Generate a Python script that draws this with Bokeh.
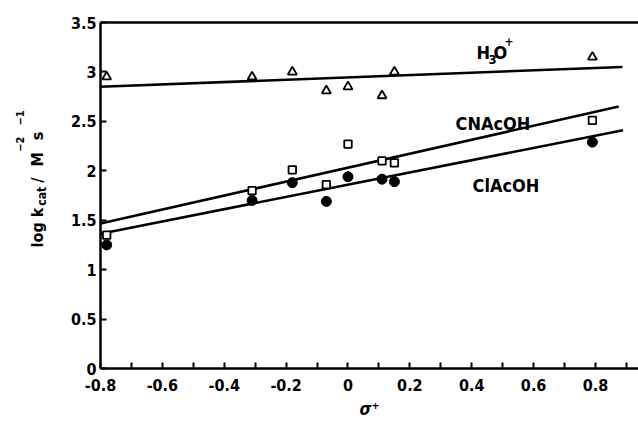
from bokeh.plotting import figure
from bokeh.models import Label, LinearAxis, FixedTicker, Range1d
from bokeh.layouts import row
from bokeh.embed import file_html
from bokeh.resources import INLINE

# ---- data ----
sigma = [-0.78, -0.31, -0.18, -0.07, 0.0, 0.11, 0.15, 0.79]
h3o = [2.95, 2.95, 3.00, 2.81, 2.85, 2.76, 3.00, 3.15]
cnacoh = [1.35, 1.80, 2.01, 1.86, 2.27, 2.10, 2.08, 2.51]
clacoh = [1.25, 1.70, 1.88, 1.69, 1.94, 1.915, 1.89, 2.29]

h3o_fit_x = [-0.8, 0.887]
h3o_fit_y = [2.85, 3.05]
cn_fit_x = [-0.8, 0.875]
cn_fit_y = [1.466, 2.65]
cl_fit_x = [-0.8, 0.889]
cl_fit_y = [1.364, 2.41]

x_ticks = [-0.8, -0.6, -0.4, -0.2, 0.0, 0.2, 0.4, 0.6, 0.8]
x_tick_labels = ["-0.8", "-0.6", "-0.4", "-0.2", "0", "0.2", "0.4", "0.6", "0.8"]
x_minor = [-0.7, -0.5, -0.3, -0.1, 0.1, 0.3, 0.5, 0.7, 0.9]
y_ticks = [0, 0.5, 1, 1.5, 2, 2.5, 3, 3.5]
y_tick_labels = ["0", "0.5", "1", "1.5", "2", "2.5", "3", "3.5"]

# ---- layout ----
W, H = 638, 423
SIDE = 60                     # width of the strip holding the y title
LEFT, TOP, BOTTOM, RIGHT = 100, 22, 55, 0
X0, X1 = -0.8, 0.939
Y0, Y1 = 0.0, 3.5
FW = W - LEFT - RIGHT
FH = H - TOP - BOTTOM

FONT = "DejaVu Sans Condensed, DejaVu Sans"


def px2x(px):
    return X0 + (px - LEFT) / FW * (X1 - X0)


def py2y(py):
    return Y1 - (py - TOP) / FH * (Y1 - Y0)


p = figure(width=W - SIDE, height=H, output_backend="svg", toolbar_location=None,
           x_range=Range1d(X0, X1), y_range=Range1d(Y0, Y1),
           min_border_left=LEFT - SIDE, min_border_right=RIGHT,
           min_border_top=TOP, min_border_bottom=BOTTOM)
p.outline_line_color = None
p.grid.visible = False

xa = p.xaxis[0]
xa.ticker = FixedTicker(ticks=x_ticks, minor_ticks=x_minor)
xa.major_label_overrides = {t: l for t, l in zip(x_ticks, x_tick_labels)}
ya = p.yaxis[0]
ya.ticker = FixedTicker(ticks=y_ticks)
ya.major_label_overrides = {t: l for t, l in zip(y_ticks, y_tick_labels)}
for ax in (xa, ya):
    ax.axis_line_width = 2.5
    ax.axis_line_color = "black"
    ax.major_tick_in = 6
    ax.major_tick_out = 0
    ax.minor_tick_in = 6
    ax.minor_tick_out = 0
    ax.major_tick_line_width = 2
    ax.minor_tick_line_width = 2
    ax.major_label_text_font = FONT
    ax.major_label_text_font_style = "bold"
    ax.major_label_text_font_size = "16px"
    ax.major_label_text_color = "black"
ya.minor_tick_line_color = None
xa.major_label_standoff = 10
ya.major_label_standoff = 4

xa.axis_label = "\u03c3\u207a"
xa.axis_label_text_font = FONT
xa.axis_label_text_font_style = "bold italic"
xa.axis_label_text_font_size = "17px"
xa.axis_label_text_color = "black"
xa.axis_label_standoff = 5

top_axis = LinearAxis(ticker=FixedTicker(ticks=[]), axis_line_width=2.5,
                      major_label_text_font_size="0px",
                      major_tick_line_color=None, minor_tick_line_color=None)
p.add_layout(top_axis, "above")

# fitted lines
for fx, fy in ((h3o_fit_x, h3o_fit_y), (cn_fit_x, cn_fit_y), (cl_fit_x, cl_fit_y)):
    p.line(fx, fy, line_color="black", line_width=2.6)

# points
p.scatter(sigma, clacoh, marker="circle", size=10, fill_color="black", line_color="black")
p.scatter(sigma, cnacoh, marker="square", size=7.5, fill_color="white", line_color="black", line_width=1.8)
p.scatter(sigma, h3o, marker="triangle", size=9, fill_color="white", line_color="black", line_width=1.8)


def lab(fig, x, y, text, size, angle=0, style="bold"):
    fig.add_layout(Label(x=x, y=y, text=text, text_font=FONT,
                         text_font_style=style, text_font_size=f"{size}px",
                         text_color="black", angle=angle, angle_units="deg",
                         text_align="left", text_baseline="alphabetic"))


# series labels (positions given in window pixels)
for t, px, py, s in (("H", 476, 52, 18), ("3", 488, 59, 13), ("O", 493, 52, 18),
                     ("+", 504, 41, 12), ("CNAcOH", 455, 123, 18), ("ClAcOH", 472, 185, 18)):
    lab(p, px2x(px), py2y(py), t, s)

# strip on the left carrying the rotated y title
q = figure(width=SIDE, height=H, output_backend="svg", toolbar_location=None,
           x_range=Range1d(0, SIDE), y_range=Range1d(0, H),
           min_border=0, x_axis_location=None, y_axis_location=None)
q.outline_line_color = None
q.grid.visible = False
for t, px, py, s in (("log k", 37, 275, 16), ("cat", 41, 224, 12), ("/", 37, 196, 16),
                     ("M", 37, 176, 16), ("\u22122", 19, 158, 11), ("s", 37, 144, 16),
                     ("\u22121", 19, 126, 11)):
    lab(q, px, H - py, t, s, 90)

layout = row(q, p, spacing=0)
open("out.html", "w").write(file_html(layout, INLINE))
